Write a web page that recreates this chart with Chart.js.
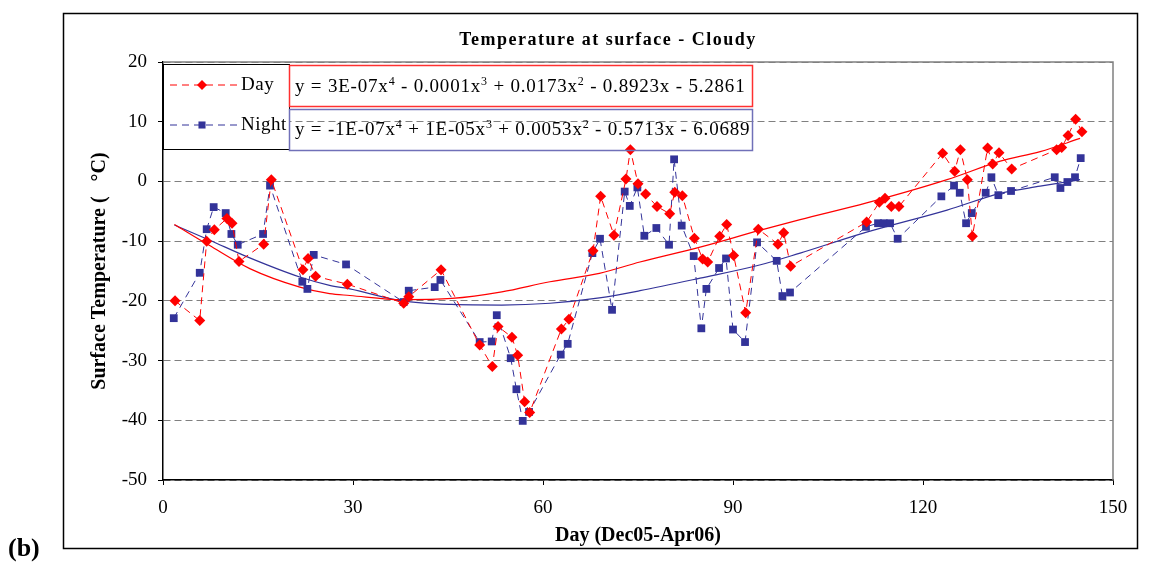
<!DOCTYPE html>
<html>
<head>
<meta charset="utf-8">
<script src="https://cdn.jsdelivr.net/npm/chart.js@4.4.0/dist/chart.umd.min.js"></script>
<style>
html, body { margin: 0; padding: 0; background: #fff; }
#wrap { width: 1149px; height: 566px; position: relative; }
</style>
</head>
<body>
<div id="wrap"><canvas id="chart" width="1149" height="566"></canvas></div>
<script>
// readings taken off the original figure
var dayX = [1.9, 5.8, 6.9, 8.1, 10.1, 10.9, 12.0, 15.9, 17.1, 22.1, 22.9, 24.1, 29.1, 38.0, 38.8, 43.9,
  50.0, 52.0, 52.9, 55.1, 56.0, 57.1, 57.9, 62.9, 64.1, 67.9, 69.1, 71.2, 73.1, 73.8, 75.0, 76.2,
  78.0, 80.0, 80.8, 82.0, 83.9, 85.2, 86.0, 87.9, 89.0, 90.1, 92.0, 94.0, 97.1, 98.0, 99.1,
  111.1, 113.1, 114.0, 115.0, 116.2, 123.1, 125.0, 125.9, 127.0, 127.8, 130.2, 131.0, 132.0, 134.0,
  141.1, 141.9, 142.9, 144.1, 145.1];
var dayY = [-20.0, -23.3, -10.0, -8.1, -6.2, -7.0, -13.4, -10.5, 0.3, -14.8, -12.9, -15.9, -17.2, -20.4, -19.3, -14.8,
  -27.4, -31.0, -24.3, -26.1, -29.1, -36.9, -38.7, -24.7, -23.1, -11.6, -2.5, -9.0, 0.4, 5.3, -0.4, -2.1,
  -4.2, -5.4, -1.8, -2.4, -9.5, -13.0, -13.5, -9.2, -7.2, -12.4, -22.0, -8.0, -10.5, -8.6, -14.2,
  -6.8, -3.5, -2.8, -4.2, -4.2, 4.7, 1.7, 5.3, 0.3, -9.2, 5.6, 2.9, 4.8, 2.1,
  5.3, 5.7, 7.7, 10.4, 8.3];

var nightX = [1.7, 5.8, 6.9, 8.0, 9.9, 10.8, 11.8, 15.8, 16.9, 22.0, 22.8, 23.8, 28.9, 38.0, 38.8, 42.9, 43.8,
  50.0, 51.9, 52.7, 54.9, 55.8, 56.8, 57.8, 62.8, 63.9, 67.8, 69.0, 70.9, 72.9, 73.7, 74.9, 76.0,
  77.9, 79.9, 80.7, 81.9, 83.8, 85.0, 85.8, 87.8, 88.9, 90.0, 91.9, 93.8, 96.9, 97.8, 99.0,
  111.0, 112.9, 113.8, 114.8, 116.0, 122.9, 124.9, 125.8, 126.8, 127.7, 129.9, 130.8, 131.9, 133.9,
  140.8, 141.7, 142.8, 144.0, 144.9];
var nightY = [-22.9, -15.3, -8.0, -4.3, -5.3, -8.8, -10.6, -8.8, -0.7, -16.8, -18.0, -12.3, -13.9, -20.2, -18.3, -17.7, -16.5,
  -26.9, -26.8, -22.4, -29.6, -34.8, -40.1, -38.6, -29.0, -27.2, -12.0, -9.6, -21.5, -1.7, -4.1, -1.0, -9.1,
  -7.8, -10.6, 3.7, -7.4, -12.5, -24.6, -18.0, -14.5, -12.9, -24.8, -26.9, -10.2, -13.3, -19.2, -18.6,
  -7.6, -7.0, -7.0, -7.0, -9.6, -2.5, -0.7, -1.9, -7.0, -5.3, -1.9, 0.7, -2.3, -1.6,
  0.7, -1.1, -0.1, 0.7, 3.9];

// fitted curves as they appear on the figure
var trendX = [1.8, 7.3, 13.7, 21.6, 26.3, 29.5, 37.7, 45.6, 53.5, 61.1, 68.9, 75.3, 84.8, 94.2, 100.6, 111.1, 123.8, 132.2, 138.5, 144.8];
var dayTrend = [-7.2, -10.7, -14.6, -17.7, -18.8, -19.1, -19.8, -19.6, -18.5, -16.8, -15.4, -13.5, -11.0, -8.2, -6.4, -3.6, 0.3, 3.4, 5.0, 7.2];
var nightTrend = [-7.3, -9.8, -12.8, -16.0, -17.4, -18.0, -20.0, -20.6, -20.7, -20.4, -19.5, -18.3, -16.2, -14.0, -12.0, -8.5, -4.8, -2.0, -0.8, 0.3];

var seriesNames = ['Day', 'Night'];
var xTicks = [0, 30, 60, 90, 120, 150];
var yTicks = [20, 10, 0, -10, -20, -30, -40, -50];

// [text, superscript?]
var dayEquation = [['y = 3E-07x', 0], ['4', 1], [' - 0.0001x', 0], ['3', 1], [' + 0.0173x', 0], ['2', 1], [' - 0.8923x - 5.2861', 0]];
var nightEquation = [['y = -1E-07x', 0], ['4', 1], [' + 1E-05x', 0], ['3', 1], [' + 0.0053x', 0], ['2', 1], [' - 0.5713x - 6.0689', 0]];

var RED = '#ff0000';
var BLUE = '#333399';
var SERIF = '"Liberation Serif", "Times New Roman", serif';

function pts(xs, ys) {
  return xs.map(function (x, i) { return {x: x, y: ys[i]}; });
}

function drawRich(ctx, parts, x, y) {
  parts.forEach(function (p) {
    if (p[1]) {
      ctx.font = '12px ' + SERIF;
      ctx.fillText(p[0], x, y - 7);
    } else {
      ctx.font = '19px ' + SERIF;
      ctx.fillText(p[0], x, y);
    }
    x += ctx.measureText(p[0]).width;
  });
}

var decor = {
  id: 'decor',
  afterDraw: function (chart) {
    var ctx = chart.ctx, a = chart.chartArea;
    var ds = chart.data.datasets;
    ctx.save();

    // plot area border top/right
    ctx.strokeStyle = '#808080';
    ctx.lineWidth = 1.5;
    ctx.beginPath();
    ctx.moveTo(a.left, a.top);
    ctx.lineTo(a.right, a.top);
    ctx.lineTo(a.right, a.bottom);
    ctx.stroke();

    // outer frame
    ctx.strokeStyle = '#000';
    ctx.lineWidth = 1.5;
    ctx.strokeRect(63.5, 13.5, 1074, 535);

    // title
    ctx.fillStyle = '#000';
    ctx.textAlign = 'center';
    ctx.textBaseline = 'middle';
    ctx.font = 'bold 18px ' + SERIF;
    ctx.letterSpacing = '1.5px';
    ctx.fillText('Temperature at surface - Cloudy', 608, 40);
    ctx.letterSpacing = '0px';

    ctx.font = 'bold 26px ' + SERIF;
    ctx.textAlign = 'left';
    ctx.fillText('(b)', 8, 549);

    // legend
    ctx.fillStyle = '#fff';
    ctx.fillRect(a.left, 64, 126, 85);
    ctx.strokeStyle = '#000';
    ctx.lineWidth = 1;
    ctx.strokeRect(a.left + 0.5, 64.5, 126, 85);
    [0, 1].forEach(function (i) {
      var d = ds[i], y = i === 0 ? 85 : 125;
      ctx.strokeStyle = d.borderColor;
      ctx.lineWidth = 1;
      ctx.setLineDash(d.borderDash);
      ctx.beginPath();
      ctx.moveTo(170, y);
      ctx.lineTo(237, y);
      ctx.stroke();
      ctx.setLineDash([]);
      ctx.fillStyle = d.pointBackgroundColor;
      Chart.helpers.drawPoint(ctx, {pointStyle: d.pointStyle, radius: d.pointRadius - 0.5, rotation: 0, borderWidth: 0}, 202, y);
      ctx.fillStyle = '#000';
      ctx.font = '19px ' + SERIF;
      ctx.letterSpacing = '0.5px';
      ctx.textBaseline = 'middle';
      ctx.fillText(seriesNames[i], 241, y);
      ctx.letterSpacing = '0px';
    });

    // equation boxes
    ctx.lineWidth = 1.5;
    ctx.strokeStyle = '#ff3030';
    ctx.strokeRect(289.5, 65.5, 463, 41);
    ctx.strokeStyle = '#7070b8';
    ctx.strokeRect(289.5, 109.5, 463, 41);
    ctx.fillStyle = '#000';
    ctx.textBaseline = 'alphabetic';
    ctx.letterSpacing = '0.8px';
    drawRich(ctx, dayEquation, 295, 92);
    drawRich(ctx, nightEquation, 295, 135);
    ctx.letterSpacing = '0px';

    ctx.restore();
  }
};

new Chart(document.getElementById('chart'), {
  type: 'line',
  data: {
    datasets: [
      {
        label: seriesNames[0], data: pts(dayX, dayY),
        borderColor: RED, backgroundColor: RED, pointBackgroundColor: RED, pointBorderColor: RED,
        borderWidth: 1, borderDash: [7, 5], pointStyle: 'rectRot', pointRadius: 5.5, pointBorderWidth: 0,
        tension: 0, order: 1
      },
      {
        label: seriesNames[1], data: pts(nightX, nightY),
        borderColor: BLUE, backgroundColor: BLUE, pointBackgroundColor: BLUE, pointBorderColor: BLUE,
        borderWidth: 1, borderDash: [7, 5], pointStyle: 'rect', pointRadius: 5.5, pointBorderWidth: 0,
        tension: 0, order: 2
      },
      {
        label: 'Day fit', data: pts(trendX, dayTrend),
        borderColor: RED, borderWidth: 1.2, pointRadius: 0, cubicInterpolationMode: 'monotone', order: 3
      },
      {
        label: 'Night fit', data: pts(trendX, nightTrend),
        borderColor: BLUE, borderWidth: 1.2, pointRadius: 0, cubicInterpolationMode: 'monotone', order: 4
      }
    ]
  },
  options: {
    responsive: false,
    animation: false,
    devicePixelRatio: 1,
    layout: {padding: {left: 63, right: 36, top: 62, bottom: 18}},
    plugins: {legend: {display: false}, title: {display: false}, tooltip: {enabled: false}},
    scales: {
      x: {
        type: 'linear', min: 0, max: 150,
        afterBuildTicks: function (s) { s.ticks = xTicks.map(function (v) { return {value: v}; }); },
        afterFit: function (s) { s.height = 68; },
        ticks: {color: '#000', font: {family: SERIF, size: 19}, padding: 12, maxRotation: 0},
        grid: {drawOnChartArea: false, drawTicks: true, tickLength: 5, tickColor: '#000'},
        border: {color: '#000', width: 1.5},
        title: {display: true, text: 'Day (Dec05-Apr06)', color: '#000', font: {family: SERIF, size: 20, weight: 'bold'}, padding: {top: 0, bottom: 0}}
      },
      y: {
        min: -50, max: 20,
        afterBuildTicks: function (s) { s.ticks = yTicks.map(function (v) { return {value: v}; }); },
        afterFit: function (s) { s.width = 100; },
        ticks: {color: '#000', font: {family: SERIF, size: 19}, padding: 11},
        grid: {color: '#808080', lineWidth: 1, tickLength: 5, tickColor: '#000'},
        border: {color: '#000', width: 1.5, dash: [7, 4]},
        title: {display: true, text: 'Surface Temperature (   \u00b0C)', color: '#000', font: {family: SERIF, size: 20, weight: 'bold'}, padding: {top: 25, bottom: 0}}
      }
    }
  },
  plugins: [decor]
});
</script>
</body>
</html>
